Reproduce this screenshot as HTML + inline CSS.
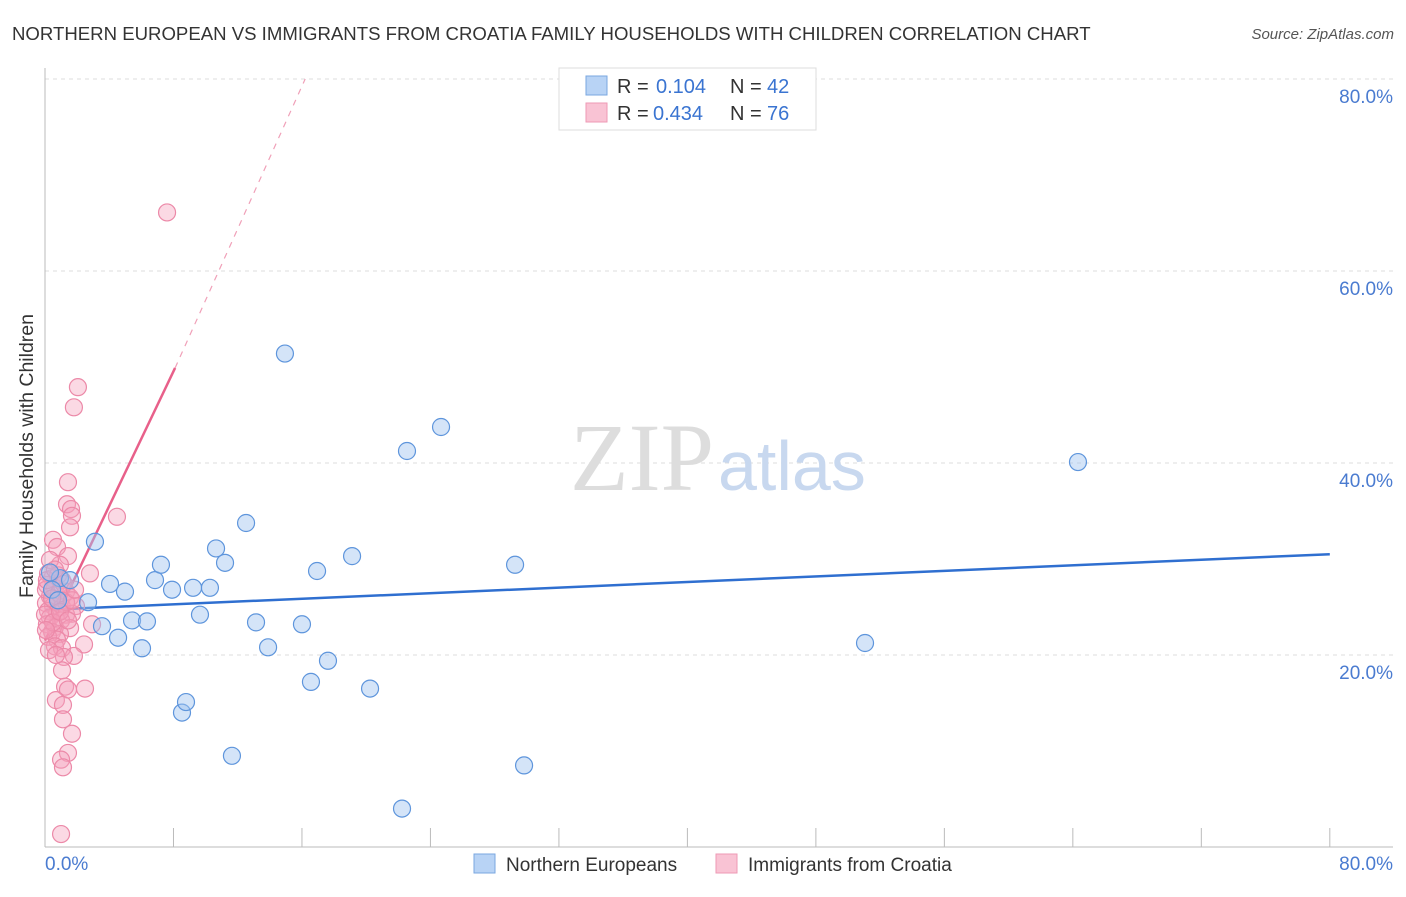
<!DOCTYPE html>
<html><head><meta charset="utf-8"><style>
body{margin:0;background:#fff;font-family:"Liberation Sans",sans-serif;}
</style></head><body>
<svg width="1406" height="892" xmlns="http://www.w3.org/2000/svg">
<text x="12" y="40" font-size="18.6" fill="#333">NORTHERN EUROPEAN VS IMMIGRANTS FROM CROATIA FAMILY HOUSEHOLDS WITH CHILDREN CORRELATION CHART</text>
<text x="1394" y="39" font-size="15" fill="#555" font-style="italic" text-anchor="end">Source: ZipAtlas.com</text>
<g id="grid"></g>
<text x="714" y="490" font-size="96" fill="#ddd" font-family="Liberation Serif,serif" text-anchor="end">ZIP</text>
<text x="718" y="490" font-size="70" fill="#c8d8ef">atlas</text>
<g id="axes"></g>
<g id="lines"></g>
<g id="points"></g>
<text x="33" y="456" font-size="19.5" fill="#333" transform="rotate(-90 33 456)" text-anchor="middle">Family Households with Children</text>
<g font-size="20">
<rect x="559" y="68" width="257" height="62" fill="#fff" stroke="#ddd"/>
<rect x="586" y="76" width="21" height="19" fill="#b8d3f5" stroke="#7aa7e0"/>
<rect x="586" y="103" width="21" height="19" fill="#f9c3d4" stroke="#ee9ab5"/>
<text x="617" y="93" fill="#333">R =</text><text x="656" y="93" fill="#3a74d1">0.104</text>
<text x="730" y="93" fill="#333">N =</text><text x="767" y="93" fill="#3a74d1">42</text>
<text x="617" y="120" fill="#333">R =</text><text x="653" y="120" fill="#3a74d1">0.434</text>
<text x="730" y="120" fill="#333">N =</text><text x="767" y="120" fill="#3a74d1">76</text>
</g>
<g>
<rect x="474" y="854" width="21" height="19" fill="#b8d3f5" stroke="#7aa7e0"/>
<text x="506" y="871" font-size="19" fill="#333">Northern Europeans</text>
<rect x="716" y="854" width="21" height="19" fill="#f9c3d4" stroke="#ee9ab5"/>
<text x="748" y="871" font-size="19" fill="#333">Immigrants from Croatia</text>
</g>
</svg>
<script>
const yTicks=[20,40,60,80];
const yTickLabels=["20.0%","40.0%","60.0%","80.0%"];
const xTickLabels=["0.0%","80.0%"];
const blueX=[3.11,0.93,2.68,4.05,4.98,3.55,4.55,5.42,6.04,6.35,6.85,7.22,7.91,8.53,8.78,9.22,9.65,10.27,10.65,11.21,11.64,12.52,13.14,13.89,14.94,16.0,16.56,16.94,17.62,19.12,20.24,22.23,22.54,24.66,29.27,29.83,51.06,64.32,0.31,0.44,0.81,1.56];
const blueY=[31.8,28.0,25.5,27.4,26.6,23.0,21.8,23.6,20.7,23.5,27.8,29.4,26.8,14.0,15.1,27.0,24.2,27.0,31.1,29.6,9.5,33.75,23.4,20.8,51.4,23.2,17.2,28.75,19.4,30.3,16.5,4.0,41.25,43.75,29.4,8.5,21.25,40.1,28.6,26.8,25.7,27.8];
const pinkX=[7.6,2.05,1.8,1.43,1.37,1.62,1.68,1.56,4.48,0.5,0.75,1.43,2.8,0.93,0.19,0.44,1.06,0.12,0.62,1.31,0.31,1.56,0.81,0.06,0.5,1.06,1.93,0.19,0.75,1.31,1.68,0.31,1.0,2.93,0.12,0.62,1.56,0.44,0.93,0.19,0.75,2.43,0.62,1.06,1.8,1.18,1.06,1.25,1.43,2.49,0.68,1.12,1.12,1.68,1.43,1.0,1.12,1.0,0.31,0.06,0.81,0,1.31,0.5,0.06,0.87,1.68,0.25,0.68,0.44,1.18,0.93,1.43,0.12,0.62,1.87];
const pinkY=[66.1,47.9,45.8,38.0,35.7,35.2,34.5,33.3,34.4,32.0,31.25,30.3,28.5,29.4,28.5,28.0,27.8,27.3,27.0,26.6,26.1,26.0,25.7,25.4,25.1,25.0,25.1,24.6,24.4,24.2,24.3,23.9,23.6,23.2,23.2,22.9,22.8,22.4,22.2,21.9,21.6,21.1,20.9,20.7,19.9,19.8,18.4,16.7,16.4,16.5,15.3,14.8,13.3,11.8,9.8,9.1,8.3,1.35,29.9,26.8,28.3,24.2,25.5,23.4,22.6,26.4,25.7,20.5,20.0,25.9,27.4,24.5,23.6,27.8,28.9,26.8];
const blueLine=[[0,24.7],[80,30.5]];
const pinkLine=[[0,21.5],[8.1,49.9]];
const pinkDash=[[8.1,49.9],[16.2,80]];
const NS="http://www.w3.org/2000/svg";
const sx=v=>45+v*16.06, sy=v=>847-v*9.6;
function mk(t,a,p){const e=document.createElementNS(NS,t);for(const k in a)e.setAttribute(k,a[k]);p.appendChild(e);return e;}
const grid=document.getElementById('grid'),axes=document.getElementById('axes'),lines=document.getElementById('lines'),pts=document.getElementById('points');
yTicks.forEach((v,i)=>{
 const l=mk('line',{x1:45,x2:1393,y1:sy(v),y2:sy(v),stroke:'#ddd','stroke-dasharray':'4,4'},grid);
 
 
 const t=mk('text',{x:1393,y:sy(v)+24,'font-size':19,fill:'#4a7bd0','text-anchor':'end'},axes);
 t.textContent=yTickLabels[i];
 
 
});
mk('line',{x1:45,x2:45,y1:68,y2:847,stroke:'#bbb'},axes);
mk('line',{x1:45,x2:1393,y1:847,y2:847,stroke:'#bbb'},axes);
for(let i=0;i<=10;i++){const x=sx(i*8);mk('line',{x1:x,x2:x,y1:828,y2:847,stroke:'#bbb'},axes);}
[[0,'start',45],[1,'end',1393]].forEach(([i,a,x])=>{const t=mk('text',{x:x,y:870,'font-size':19,fill:'#4a7bd0','text-anchor':a},axes);t.textContent=xTickLabels[i];
 
 });
function ln(seg,col,w,dash,name){const e=mk('line',{x1:sx(seg[0][0]),y1:sy(seg[0][1]),x2:sx(seg[1][0]),y2:sy(seg[1][1]),stroke:col,'stroke-width':w},lines);if(dash)e.setAttribute('stroke-dasharray',dash);
 
 }
ln(blueLine,'#2f6fd0',2.5,null,'blue-trend-line');
ln(pinkLine,'#e8608a',2.5,null,'pink-trend-line');
ln(pinkDash,'#f0a0b8',1.2,'6,6','pink-trend-extension');
pinkX.forEach((x,i)=>{const c=mk('circle',{cx:sx(x),cy:sy(pinkY[i]),r:8.5,fill:'rgba(244,160,188,0.4)',stroke:'#ec89a8','stroke-width':1.2},pts);
 
 });
blueX.forEach((x,i)=>{const c=mk('circle',{cx:sx(x),cy:sy(blueY[i]),r:8.5,fill:'rgba(160,196,240,0.45)',stroke:'#5e95dc','stroke-width':1.2},pts);
 
 });
</script>
</body></html>
